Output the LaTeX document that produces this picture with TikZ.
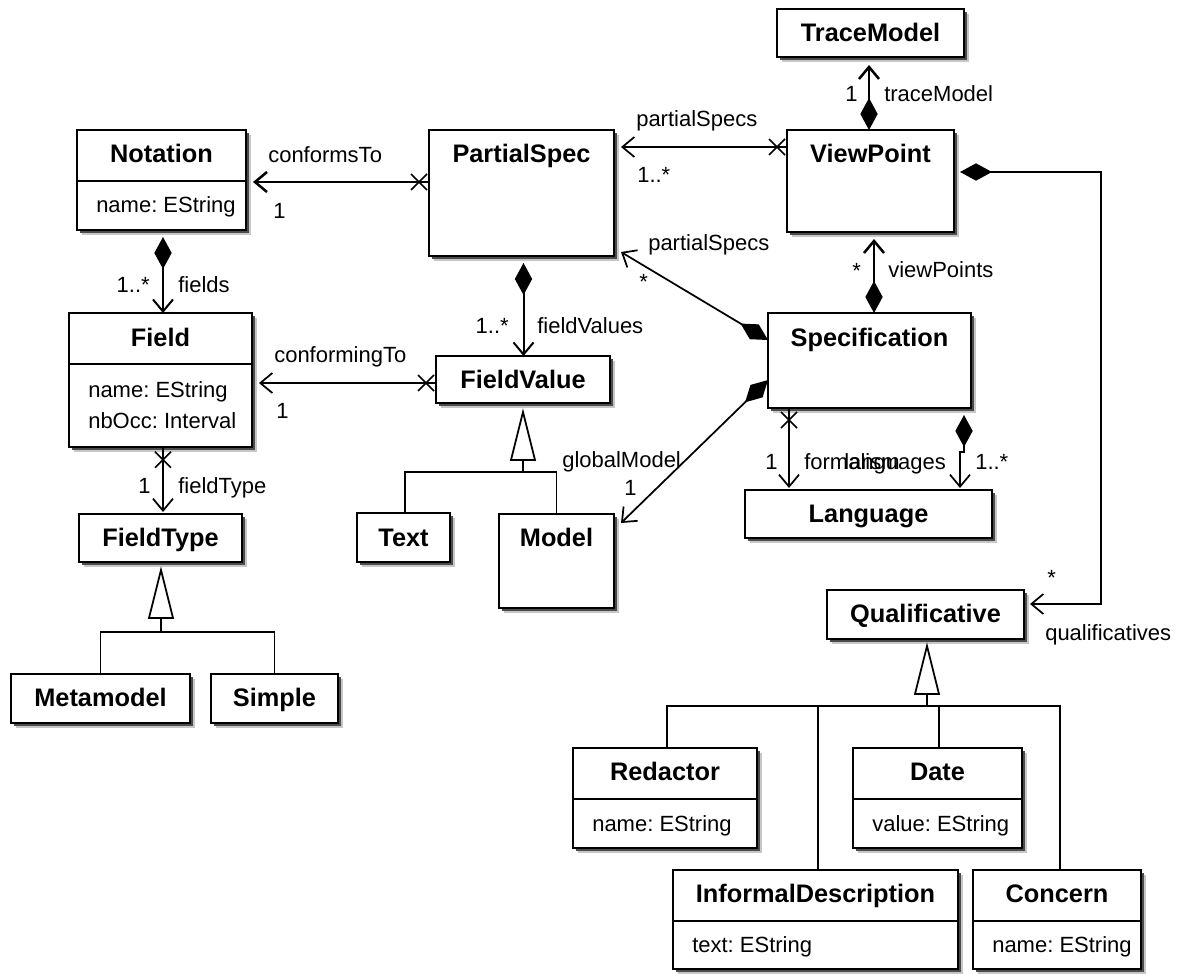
\documentclass[tikz,border=0pt]{standalone}
\usepackage{fontspec}
\setmainfont{Liberation Sans}
\frenchspacing
\usetikzlibrary{arrows.meta,calc,fit,shadows,decorations.markings}

\tikzset{
 cls/.style={draw, line width=2pt, fill=white, inner sep=0pt, outer sep=0pt,
   drop shadow={shadow xshift=4pt, shadow yshift=-4pt, fill=black!22, opacity=1, draw=none},
   drop shadow={shadow xshift=2.2pt, shadow yshift=-2.2pt, fill=black!70, opacity=1, draw=none}},
 ttl/.style={font=\fontsize{19}{22}\selectfont\bfseries, anchor=base, inner sep=0pt},
 attr/.style={font=\fontsize{16.5}{20}\selectfont, anchor=base west, inner sep=0pt},
 lbl/.style={font=\fontsize{16.5}{20}\selectfont, anchor=base west, inner sep=0pt},
 lblr/.style={lbl, anchor=base east},
 divider/.style={line width=2pt},
 assoc/.style={line width=1.3pt},
 heavy/.style={line width=1.9pt},
 opn/.style={-{Straight Barb[length=9pt,width=15pt]}},
 dia/.style={{Diamond[length=24pt,width=13pt]}-{Straight Barb[length=9pt,width=15pt]}},
 xat/.style={postaction={decorate, decoration={markings, mark=at position #1 with {\draw[-, line width=1.2pt] (-6pt,-6pt)--(6pt,6pt) (-6pt,6pt)--(6pt,-6pt);}}}},
 gen/.style={line width=1.3pt},
 gentri/.pic={\draw[gen, fill=white] (0,0) -- (-12,48) -- (12,48) -- cycle; \draw[gen] (0,48) -- (0,61);}
}

\begin{document}
\begin{tikzpicture}[x=0.75pt, y=-0.75pt]
\useasboundingbox (0,0) rectangle (1181,974);

% ---------- classes ----------
\node[cls, fit={(777,9) (964,57)}] (tracemodel) {};
\node[cls, fit={(77,130) (246,230)}] (notation) {};
\node[cls, fit={(429,130) (614,256)}] (partialspec) {};
\node[cls, fit={(787,130) (954,232)}] (viewpoint) {};
\node[cls, fit={(69,313) (252,447)}] (field) {};
\node[cls, fit={(436,356) (610,403)}] (fieldvalue) {};
\node[cls, fit={(768,313) (971,408)}] (specification) {};
\node[cls, fit={(79,514) (242,562)}] (fieldtype) {};
\node[cls, fit={(357,513) (450,562)}] (text) {};
\node[cls, fit={(499,514) (614,608)}] (model) {};
\node[cls, fit={(745,490) (992,538)}] (language) {};
\node[cls, fit={(11,674) (190,723)}] (metamodel) {};
\node[cls, fit={(211,674) (338,723)}] (simple) {};
\node[cls, fit={(827,590) (1024,639)}] (qualificative) {};
\node[cls, fit={(573,748) (757,848)}] (redactor) {};
\node[cls, fit={(853,748) (1022,848)}] (date) {};
\node[cls, fit={(673,870) (958,969)}] (informal) {};
\node[cls, fit={(973,870) (1141,969)}] (concern) {};

% dividers
\draw[divider] (notation.west |- 0,181) -- (notation.east |- 0,181);
\draw[divider] (field.west |- 0,364) -- (field.east |- 0,364);
\draw[divider] (redactor.west |- 0,799) -- (redactor.east |- 0,799);
\draw[divider] (date.west |- 0,799) -- (date.east |- 0,799);
\draw[divider] (informal.west |- 0,921) -- (informal.east |- 0,921);
\draw[divider] (concern.west |- 0,921) -- (concern.east |- 0,921);

% titles
\node[ttl] (tracemodel-t) at (tracemodel.center |- 0,42) {TraceModel};
\node[ttl] (notation-t) at (notation.center |- 0,162) {Notation};
\node[ttl] (partialspec-t) at (partialspec.center |- 0,162) {PartialSpec};
\node[ttl] (viewpoint-t) at (viewpoint.center |- 0,162) {ViewPoint};
\node[ttl] (field-t) at (field.center |- 0,346) {Field};
\node[ttl] (fieldvalue-t) at (fieldvalue.center |- 0,388) {FieldValue};
\node[ttl] (specification-t) at (specification.center |- 0,346) {Specification};
\node[ttl] (fieldtype-t) at (fieldtype.center |- 0,546) {FieldType};
\node[ttl] (text-t) at (text.center |- 0,546) {Text};
\node[ttl] (model-t) at (model.center |- 0,546) {Model};
\node[ttl] (language-t) at (language.center |- 0,522) {Language};
\node[ttl] (metamodel-t) at (metamodel.center |- 0,706) {Metamodel};
\node[ttl] (simple-t) at (simple.center |- 0,706) {Simple};
\node[ttl] (qualificative-t) at (qualificative.center |- 0,622) {Qualificative};
\node[ttl] (redactor-t) at (redactor.center |- 0,780) {Redactor};
\node[ttl] (date-t) at (date.center |- 0,780) {Date};
\node[ttl] (informal-t) at (informal.center |- 0,902) {InformalDescription};
\node[ttl] (concern-t) at (concern.center |- 0,902) {Concern};

% attributes
\node[attr] (notation-a1) at (96,212) {name: EString};
\node[attr] (field-a1) at (88,397) {name: EString};
\node[attr] (field-a2) at (88,428) {nbOcc: Interval};
\node[attr] (redactor-a1) at (592,831) {name: EString};
\node[attr] (date-a1) at (872,831) {value: EString};
\node[attr] (informal-a1) at (692,952) {text: EString};
\node[attr] (concern-a1) at (992,952) {name: EString};

% ---------- associations ----------
% conformsTo
\draw[heavy, opn, xat=7.5pt] (partialspec.west |- 0,182) -- ($(notation.east |- 0,182)+(7,0)$);
% partialSpecs (ViewPoint -> PartialSpec)
\draw[assoc, opn, xat=7.5pt] (viewpoint.west |- 0,147) -- ($(partialspec.east |- 0,147)+(7,0)$);
% partialSpecs (Specification -> PartialSpec)
\draw[assoc, dia] (specification.west |- 0,340) -- ($(partialspec.south east)+(7,-4)$);
% globalModel
\draw[assoc, dia] (specification.west |- 0,380) -- ($(model.north east)+(7,9)$);
% fieldValues
\coordinate (c5) at ($(partialspec.south)+(2,7)$);
\draw[assoc, line width=1.5pt, dia] (c5) -- (c5 |- fieldvalue.north);
% conformingTo
\draw[assoc, opn, xat=7.5pt] (fieldvalue.west |- 0,383) -- ($(field.east |- 0,383)+(7,0)$);
% fields
\coordinate (c7) at ($(notation.south)+(1.5,7)$);
\draw[assoc, line width=1.5pt, dia] (c7) -- (c7 |- field.north);
% fieldType
\coordinate (c8) at (c7 |- field.south);
\draw[assoc, opn, xat=9.5pt] (c8) -- ($(c8 |- fieldtype.north)+(0,-2)$);
% traceModel
\coordinate (c11) at ($(viewpoint.north)+(-1.5,0)$);
\draw[heavy, dia] (c11) -- ($(c11 |- tracemodel.south)+(0,8)$);
% viewPoints
\coordinate (c12) at ($(specification.north)+(4.5,0)$);
\draw[heavy, dia] (c12) -- ($(c12 |- viewpoint.south)+(0,7)$);
% qualificatives
\coordinate (q1) at (1101,172);
\coordinate (q2) at (1101,604);
\draw[assoc, dia] ($(viewpoint.east |- q1)+(6,0)$) -- (q1) -- (q2) -- ($(qualificative.east |- q2)+(6,0)$);
% formalism
\coordinate (c14) at ($(specification.south west)+(21,0)$);
\draw[assoc, opn, xat=9pt] (c14) -- ($(c14 |- language.north)+(0,-2)$);
% languages
\coordinate (c15) at ($(specification.south east)+(-7,7)$);
\draw[assoc, dia] (c15) -- ++(0,37) -- ++(-4,0) -- ($(c15 |- language.north)+(-4,-2)$);

% ---------- generalizations ----------
\coordinate (g1) at ($(fieldtype.south)+(0.5,70)$);
\pic at ($(fieldtype.south)+(0.5,8)$) {gentri};
\draw[gen] (metamodel.north) |- (g1) -| (simple.north);

\coordinate (g2) at ($(fieldvalue.south)+(0,69)$);
\pic at ($(fieldvalue.south)+(0,9)$) {gentri};
\draw[gen] ($(text.north)+(1.5,0)$) |- (g2) -| (model.north);

\coordinate (g3) at ($(qualificative.south)+(1.5,67)$);
\pic at ($(qualificative.south)+(1.5,7)$) {gentri};
\draw[gen] ($(redactor.north)+(2,0)$) |- (g3) -| ($(concern.north)+(3,0)$);
\coordinate (i3) at ($(informal.north)+(2.5,0)$);
\draw[gen] (i3) -- (i3 |- g3);
\coordinate (d3) at ($(date.north)+(1.5,0)$);
\draw[gen] (d3) -- (d3 |- g3);

% ---------- labels ----------
\node[lbl] (l-conf) at (268,162) {conformsTo};
\node[lbl] (l-conf1) at (273,218) {1};
\node[lblr] (l-fields1) at (150,292) {1..*};
\node[lbl] (l-fields) at (178,292) {fields};
\node[lbl] (l-cfg) at (274,362) {conformingTo};
\node[lbl] (l-cfg1) at (276,418) {1};
\node[lbl] (l-ft1) at (138,493) {1};
\node[lbl] (l-ft) at (178,493) {fieldType};
\node[lbl] (l-ps) at (636,126) {partialSpecs};
\node[lbl] (l-ps1) at (637,182) {1..*};
\node[lbl] (l-ps2) at (648,250) {partialSpecs};
\node[lbl] (l-ps2m) at (639,289) {*};
\node[lblr] (l-fv1) at (509,333) {1..*};
\node[lbl] (l-fv) at (537,333) {fieldValues};
\node[lbl] (l-gm) at (562,467) {globalModel};
\node[lbl] (l-gm1) at (624,495) {1};
\node[lbl] (l-tm1) at (845,102) {1};
\node[lbl] (l-tm) at (884,102) {traceModel};
\node[lbl] (l-vp1) at (852,278) {*};
\node[lbl] (l-vp) at (888,277) {viewPoints};
\node[lbl] (l-fo1) at (765,469) {1};
\node[lbl] (l-fo) at (804,469) {formalism};
\node[lbl] (l-la) at (844,469) {languages};
\node[lbl] (l-la1) at (975,469) {1..*};
\node[lbl] (l-q1) at (1047,585) {*};
\node[lbl] (l-q) at (1045,640) {qualificatives};
\end{tikzpicture}
\end{document}
